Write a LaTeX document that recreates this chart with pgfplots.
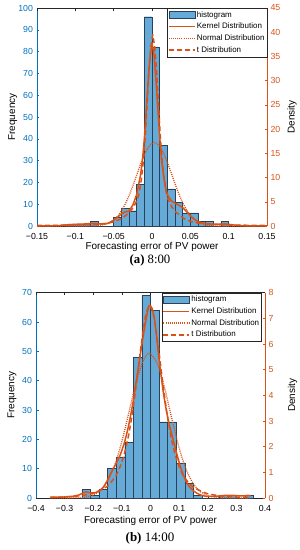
\documentclass[border=0pt]{standalone}
\usepackage{fontspec}
\setmainfont{Liberation Sans}
\newfontfamily\capfont{Liberation Serif}
\usepackage{pgfplots}
\pgfplotsset{compat=1.18}
\definecolor{matblue}{rgb}{0,0.447,0.741}
\definecolor{matorange}{rgb}{0.85,0.325,0.098}
\definecolor{histfill}{rgb}{0.4,0.668,0.845}
\definecolor{histedge}{rgb}{0.16,0.26,0.34}
\definecolor{axgray}{rgb}{0.15,0.15,0.15}
\pgfplotsset{
  base/.style={scale only axis, tick align=inside, major tick length=2.5bp,
    /pgf/number format/assume math mode=true,
    tick label style={font=\fontsize{8.8}{10}\selectfont},
    label style={font=\fontsize{9.7}{11}\selectfont},
    x axis line style={-, draw=axgray, line width=0.5bp},
    xtick style={draw=axgray, line width=0.5bp},
    ytick style={line width=0.5bp},
  },
  leftax/.style={base, axis y line*=left, axis x line*=bottom,
    y axis line style={draw=matblue, -, line width=0.5bp}, ytick style={draw=matblue},
    yticklabel style={text=matblue, xshift=-0.5bp}, ylabel style={text=matblue},
    xticklabel style={yshift=-3.5bp},
    every axis y label/.style={at={(axis description cs:-0.105,0.5)}, rotate=90, anchor=center},
    every axis x label/.style={at={(axis description cs:0.5,0)}, anchor=center, yshift=-21bp},
  },
  rightax/.style={base, axis y line*=right, axis x line*=top, xticklabels={},
    y axis line style={draw=matorange, -, line width=0.5bp}, ytick style={draw=matorange},
    yticklabel style={text=matorange}, ylabel style={text=matorange},
    legend cell align=left,
    legend style={at={(rel axis cs:1,1)}, anchor=north east, draw=axgray, line width=0.4bp,
      font=\fontsize{8}{9.5}\selectfont, inner xsep=1bp, inner ysep=1bp,
      nodes={inner ysep=2.2bp, inner xsep=1.2bp}},
    legend image code/.code={\draw[##1] (0bp,0bp) -- (26bp,0bp);},
  },
  histleg/.style={fill=histfill, draw=histedge, line width=0.4bp,
    legend image code/.code={\draw[##1] (0bp,-3.6bp) rectangle (26bp,3.6bp);}},
  kern/.style={matorange, line width=1.5bp, line join=round},
  norm/.style={matorange, line width=1.3bp, dash pattern=on 1bp off 1.1bp, smooth},
  tdis/.style={matorange, line width=1.5bp, dash pattern=on 5bp off 3bp, line join=round},
}
\begin{document}
\begin{tikzpicture}
\path[use as bounding box] (0,0) rectangle (300bp,-550bp);
% ---------------- (a) 8:00 ----------------
\begin{axis}[leftax, at={(37bp,-226bp)}, anchor=south west, width=230bp, height=218bp,
  xmin=-0.15, xmax=0.15, ymin=0, ymax=100,
  xtick={-0.15,-0.1,-0.05,0,0.05,0.1,0.15},
  xticklabels={−0.15,−0.1,−0.05,0,0.05,0.1,0.15},
  ytick={0,10,...,100},
  xlabel={Forecasting error of PV power}, ylabel={Frequency}]
\addplot[ybar interval, fill=histfill, draw=histedge, line width=0.4bp] coordinates {
(-0.11,1) (-0.10,1) (-0.09,1) (-0.08,2) (-0.07,0) (-0.06,0) (-0.05,4) (-0.04,8) (-0.03,7)
(-0.02,19) (-0.01,96) (0,82) (0.01,37) (0.02,17) (0.03,11) (0.04,6) (0.05,6) (0.06,2)
(0.07,2) (0.08,0) (0.09,2) (0.10,0)};
\end{axis}
\begin{axis}[rightax, at={(37bp,-226bp)}, anchor=south west, width=230bp, height=218bp,
  xmin=-0.15, xmax=0.15, ymin=0, ymax=45,
  xtick={-0.15,-0.1,-0.05,0,0.05,0.1,0.15},
  ytick={0,5,...,45},
  every axis y label/.style={at={(axis description cs:1.109,0.5)}, rotate=90, anchor=center},
  ylabel={Density}]
\addlegendimage{histleg}
\addplot[kern] coordinates {
(-0.15,0.02) (-0.13,0.05) (-0.12,0.1) (-0.11,0.25) (-0.10,0.35) (-0.09,0.4) (-0.08,0.5)
(-0.075,0.55) (-0.07,0.45) (-0.065,0.4) (-0.06,0.45) (-0.055,0.7) (-0.05,1.2) (-0.045,1.8)
(-0.04,2.5) (-0.035,2.9) (-0.03,3.1) (-0.025,4.3) (-0.02,6.5) (-0.0175,8.5) (-0.015,10.5)
(-0.0125,13.5) (-0.01,18) (-0.0075,24) (-0.005,30) (-0.0025,35) (0,37.8) (0.0025,35.5)
(0.005,30.5) (0.0075,24.5) (0.01,18.5) (0.0125,13.5) (0.015,10.5) (0.0175,8) (0.02,6.5)
(0.025,5.2) (0.03,4.7) (0.035,4.3) (0.04,3.8) (0.045,3.0) (0.05,2.1) (0.055,1.4) (0.06,0.9)
(0.065,0.65) (0.07,0.5) (0.08,0.35) (0.09,0.4) (0.095,0.42) (0.10,0.35) (0.11,0.15)
(0.12,0.06) (0.13,0.02) (0.15,0.01)};
\addplot[norm] coordinates {
(-0.15,0) (-0.12,0) (-0.10,0.001) (-0.09,0.006) (-0.08,0.029) (-0.07,0.12) (-0.06,0.43)
(-0.05,1.27) (-0.045,2.02) (-0.04,3.09) (-0.035,4.5) (-0.03,6.26) (-0.025,8.3) (-0.02,10.5)
(-0.015,12.73) (-0.01,14.7) (-0.005,16.2) (0,17.06) (0.003,17.2) (0.005,17.14) (0.01,16.43)
(0.015,15.05) (0.02,13.15) (0.025,10.97) (0.03,8.74) (0.035,6.65) (0.04,4.82) (0.045,3.35)
(0.05,2.21) (0.055,1.4) (0.06,0.84) (0.065,0.49) (0.07,0.27) (0.08,0.07) (0.09,0.015)
(0.10,0.003) (0.12,0) (0.15,0)};
\addplot[tdis] coordinates {
(-0.15,0.1) (-0.1,0.2) (-0.07,0.4) (-0.059,0.55) (-0.049,0.9) (-0.039,1.6) (-0.034,2.2)
(-0.029,2.9) (-0.024,3.9) (-0.019,5.5) (-0.0165,7) (-0.014,9.5) (-0.0115,13) (-0.009,18)
(-0.0065,25) (-0.004,32) (-0.0015,37) (0.001,39.5) (0.0035,37) (0.006,32) (0.0085,25)
(0.011,18) (0.0135,13) (0.016,9.5) (0.0185,7) (0.021,5.5) (0.026,3.9) (0.031,2.9)
(0.036,2.2) (0.041,1.6) (0.051,0.9) (0.061,0.55) (0.071,0.4) (0.1,0.2) (0.15,0.1)};
\legend{histogram, Kernel Distribution, Normal Distribution, t Distribution}
\end{axis}
\node[font=\capfont\fontsize{12.8}{15}\selectfont] at (150bp,-260bp) {\textbf{(a)} 8:00};
% ---------------- (b) 14:00 ----------------
\begin{axis}[leftax, at={(36bp,-498bp)}, anchor=south west, width=229bp, height=205.3bp,
  xmin=-0.4, xmax=0.4, ymin=0, ymax=70,
  xtick={-0.4,-0.3,-0.2,-0.1,0,0.1,0.2,0.3,0.4},
  xticklabels={−0.4,−0.3,−0.2,−0.1,0,0.1,0.2,0.3,0.4},
  ytick={0,10,...,70},
  xlabel style={yshift=-1.5bp},
  xlabel={Forecasting error of PV power}, ylabel={Frequency}]
\addplot[ybar interval, fill=histfill, draw=histedge, line width=0.4bp] coordinates {
(-0.24,3) (-0.21,1) (-0.18,3) (-0.15,10) (-0.12,14) (-0.09,19) (-0.06,48) (-0.03,69)
(0,64) (0.03,26) (0.06,26) (0.09,12) (0.12,5) (0.15,1) (0.18,0) (0.21,0) (0.24,1)
(0.27,1) (0.30,0) (0.33,1) (0.36,0)};
\end{axis}
\begin{axis}[rightax, at={(36bp,-498bp)}, anchor=south west, width=229bp, height=205.3bp,
  xmin=-0.4, xmax=0.4, ymin=0, ymax=8,
  xtick={-0.4,-0.3,-0.2,-0.1,0,0.1,0.2,0.3,0.4},
  ytick={0,1,...,8},
  every axis y label/.style={at={(axis description cs:1.12,0.5)}, rotate=90, anchor=center},
  ylabel={Density},
  legend style={at={(rel axis cs:0.985,1)}}]
\addlegendimage{histleg}
\addplot[kern, smooth, tension=0.4] coordinates {
(-0.35,0.03) (-0.3,0.04) (-0.27,0.07) (-0.25,0.12) (-0.235,0.2) (-0.225,0.24) (-0.21,0.2)
(-0.195,0.2) (-0.18,0.28) (-0.165,0.42) (-0.15,0.7) (-0.135,1.05) (-0.12,1.35) (-0.105,1.7)
(-0.09,2.2) (-0.075,2.9) (-0.06,3.8) (-0.045,4.9) (-0.03,6.0) (-0.015,7.0) (-0.005,7.5)
(0.005,7.4) (0.015,6.9) (0.03,5.4) (0.045,4.1) (0.06,3.15) (0.075,2.45) (0.09,1.8)
(0.105,1.2) (0.12,0.75) (0.135,0.45) (0.15,0.28) (0.165,0.17) (0.18,0.1) (0.2,0.06)
(0.23,0.07) (0.26,0.1) (0.29,0.1) (0.32,0.08) (0.34,0.1) (0.35,0.09)};
\addplot[norm] coordinates {
(-0.35,0) (-0.3,0.001) (-0.25,0.013) (-0.225,0.041) (-0.2,0.117) (-0.175,0.294) (-0.15,0.652)
(-0.125,1.276) (-0.1,2.202) (-0.075,3.357) (-0.05,4.516) (-0.025,5.365) (-0.003,5.63)
(0.025,5.207) (0.05,4.254) (0.075,3.068) (0.1,1.954) (0.125,1.098) (0.15,0.545)
(0.175,0.239) (0.2,0.092) (0.225,0.032) (0.25,0.0095) (0.3,0.0006) (0.35,0)};
\addplot[tdis, smooth, tension=0.4] coordinates {
(-0.35,0.023) (-0.303,0.041) (-0.253,0.08) (-0.203,0.175) (-0.153,0.44) (-0.123,0.83)
(-0.108,1.17) (-0.093,1.66) (-0.078,2.36) (-0.063,3.33) (-0.048,4.57) (-0.033,5.93)
(-0.018,7.05) (-0.003,7.5) (0.012,7.05) (0.027,5.93) (0.042,4.57) (0.057,3.33) (0.072,2.36)
(0.087,1.66) (0.102,1.17) (0.117,0.83) (0.147,0.44) (0.197,0.175) (0.247,0.08) (0.297,0.041)
(0.35,0.022)};
\legend{histogram, Kernel Distribution, Normal Distribution, t Distribution}
\end{axis}
\node[font=\capfont\fontsize{13}{15}\selectfont] at (150bp,-538bp) {\textbf{(b)} 14:00};
\end{tikzpicture}
\end{document}
